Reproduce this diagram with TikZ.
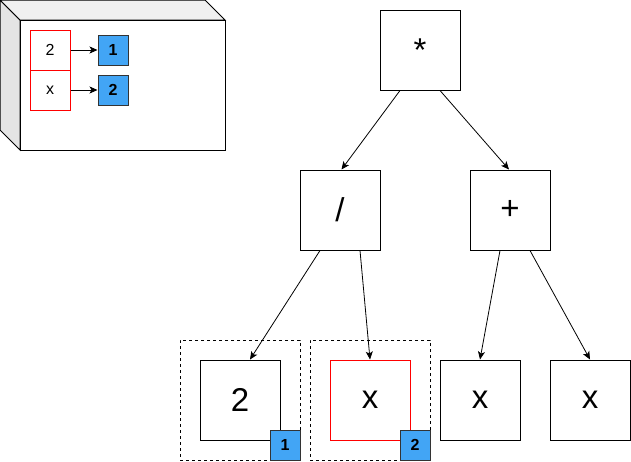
\documentclass[tikz,border=0pt]{standalone}
\usepackage{fontspec}
\setmainfont{Liberation Sans}
\usetikzlibrary{arrows.meta,calc}
\definecolor{badgeblue}{RGB}{66,165,245}
\definecolor{topgray}{RGB}{240,240,240}
\definecolor{sidegray}{RGB}{228,228,228}
\tikzset{
  bigbox/.style={draw=black, line width=1pt, minimum width=80pt, minimum height=80pt, inner sep=0pt, font=\fontsize{33}{40}\selectfont},
  smallbox/.style={draw=red, line width=1pt, minimum width=40pt, minimum height=40pt, inner sep=0pt, font=\fontsize{16}{19}\selectfont},
  badge/.style={draw=black!80, fill=badgeblue, line width=1pt, minimum width=30pt, minimum height=30pt, inner sep=0pt, font=\fontsize{16}{19}\selectfont\bfseries},
  groupbox/.style={draw=black, dashed, line width=0.8pt, minimum width=120pt, minimum height=120pt, inner sep=0pt},
  link/.style={draw=black, line width=0.8pt, -{Stealth[length=8pt,width=7pt,inset=2pt]}}
}
\begin{document}
\begin{tikzpicture}[x=1pt,y=-1pt]
\useasboundingbox (0,0) rectangle (631,461);
% cube
\draw[line width=1pt, fill=sidegray] (0,0) -- (20,20) -- (20,150) -- (0,130) -- cycle;
\draw[line width=1pt, fill=topgray] (0,0) -- (205,0) -- (225,20) -- (20,20) -- cycle;
\draw[line width=1pt, fill=white] (20,20) rectangle (225,150);
% cube content
\node[smallbox] (k2) at (50,50) {2};
\node[smallbox] (kx) at (50,90) {x};
\node[badge] (b1) at (113,50) {1};
\node[badge] (b2) at (113,90) {2};
\draw[link] (k2.east) -- (b1.west);
\draw[link] (kx.east) -- (b2.west);
% tree
\node[bigbox] (star) at (420,50) {*};
\node[bigbox] (div) at (340,210) {/};
\node[bigbox] (plus) at (510,210) {+};
\node[groupbox] (g1) at (240,400) {};
\node[groupbox] (g2) at (370,400) {};
\node[bigbox] (n2) at (240,400) {2};
\node[bigbox, draw=red] (nx1) at (370,400) {x};
\node[bigbox] (nx2) at (480,400) {x};
\node[bigbox] (nx3) at (590,400) {x};
\node[badge] (c1) at (285,445) {1};
\node[badge] (c2) at (415,445) {2};
\draw[link] ([xshift=-20pt]star.south) -- ([xshift=1.5pt]div.north);
\draw[link] ([xshift=20pt]star.south) -- ([xshift=-1pt]plus.north);
\draw[link] ([xshift=-20pt]div.south) -- ([xshift=10pt]n2.north);
\draw[link] ([xshift=20pt]div.south) -- (nx1.north);
\draw[link] ([xshift=-10pt]plus.south) -- (nx2.north);
\draw[link] ([xshift=20pt]plus.south) -- (nx3.north);
\end{tikzpicture}
\end{document}
